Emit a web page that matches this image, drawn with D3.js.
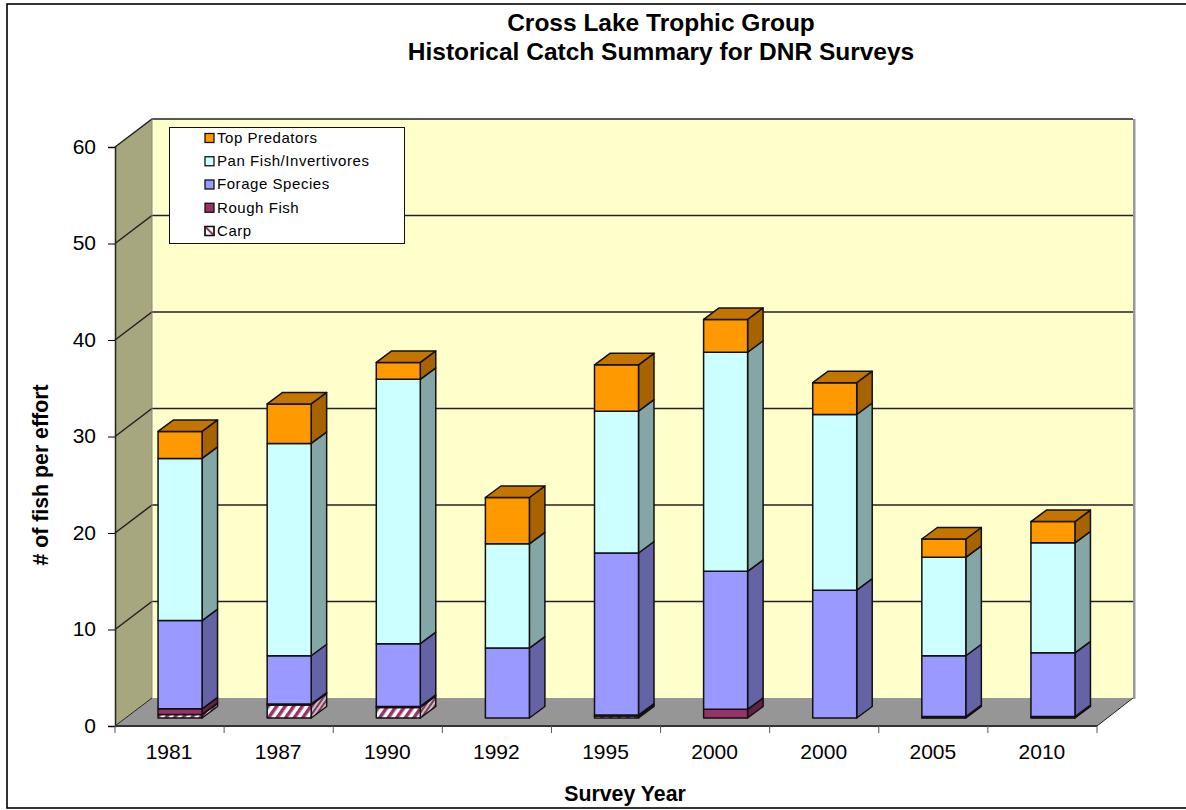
<!DOCTYPE html>
<html><head><meta charset="utf-8">
<script src="https://cdn.jsdelivr.net/npm/d3@7"></script>
<style>html,body{margin:0;padding:0;background:#fff}svg{display:block}text{font-family:"Liberation Sans",Arial,sans-serif;fill:#000}</style>
</head><body><svg id="c" width="1186" height="810"></svg>
<script>
const years=["1981","1987","1990","1992","1995","2000","2000","2005","2010"];
const carp=[0.35,1.35,1.1,0,0.2,0,0,0.05,0.05];
const rough=[0.6,0.1,0.1,0,0.1,0.9,0,0.1,0.1];
const forage=[9.15,5,6.5,7.25,16.8,14.3,13.25,6.3,6.6];
const pan=[16.8,22,27.4,10.8,14.7,22.7,18.2,10.2,11.4];
const top_=[2.8,4.1,1.75,4.8,4.8,3.4,3.3,1.9,2.2];
const seriesNames=["Carp","Rough Fish","Forage Species","Pan Fish/Invertivores","Top Predators"];
const seriesValues=[carp,rough,forage,pan,top_];
const fronts=[null,"#993366","#9999FF","#CCFFFF","#FF9900"];
const sides=["#a58aa0","#632142","#6363A6","#85A6A6","#A66300"];
const tops={4:"#C47500"};
const yTicks=[0,10,20,30,40,50,60];

const svg=d3.select("#c");
const defs=svg.append("defs");
function hatch(id,bg,fg,size,w){
  const p=defs.append("pattern").attr("id",id).attr("width",size).attr("height",size).attr("patternUnits","userSpaceOnUse").attr("patternTransform","rotate(35)");
  p.append("rect").attr("width",size).attr("height",size).attr("fill",bg);
  p.append("rect").attr("width",w).attr("height",size).attr("fill",fg);
}
hatch("hF","#fff","#993366",7,3.5);
hatch("hS","#c9c0c6","#7d3a5c",4,2);

// frame
svg.append("rect").attr("x",7).attr("y",4).attr("width",1190).attr("height",804).attr("fill","#fff").attr("stroke","#000").attr("stroke-width",1.6);

const X0=115,X1=1097,Y0=726,Y60=147, DX=37,DY=-28;
const x=d3.scaleBand().domain(d3.range(years.length)).range([X0,X1]);
const y=d3.scaleLinear().domain([0,60]).range([Y0,Y60]);
const g=svg.append("g");
const poly=(pts,fill,stroke,sw)=>g.append("polygon").attr("points",pts.map(p=>p.join(",")).join(" ")).attr("fill",fill).attr("stroke",stroke||"none").attr("stroke-width",sw||0).attr("stroke-linejoin","round");

// back wall shadow, wall
g.append("rect").attr("x",X1+DX-1).attr("y",y(60)+DY).attr("width",2.5).attr("height",y(0)-y(60)+1).attr("fill","#999");
poly([[X0+DX,y(60)+DY],[X1+DX-1,y(60)+DY],[X1+DX-1,y(0)+DY],[X0+DX,y(0)+DY]],"#FFFFCC");
poly([[X0,y(60)],[X0+DX,y(60)+DY],[X0+DX,y(0)+DY],[X0,y(0)]],"#A6A67F");
poly([[X0,y(0)],[X0+DX,y(0)+DY],[X1+DX-1,y(0)+DY],[X1,y(0)]],"#969696");

// gridlines
yTicks.slice(1).forEach(t=>{
  g.append("polyline").attr("points",`${X0},${y(t)} ${X0+DX},${y(t)+DY} ${X1+DX-1},${y(t)+DY}`).attr("fill","none").attr("stroke","#222").attr("stroke-width",1.5);
});
g.append("line").attr("x1",X0).attr("x2",X0+DX).attr("y1",y(0)).attr("y2",y(0)+DY).attr("stroke","#222").attr("stroke-width",1);
g.append("line").attr("x1",X1).attr("x2",X1+DX-1).attr("y1",y(0)).attr("y2",y(0)+DY).attr("stroke","#222").attr("stroke-width",1);
g.append("line").attr("x1",X0+DX).attr("x2",X0+DX).attr("y1",y(60)+DY).attr("y2",y(0)+DY).attr("stroke","#888").attr("stroke-width",1);

// axes
const yAxis=d3.axisLeft(y).tickValues(yTicks).tickSize(7).tickPadding(7);
const ya=svg.append("g").attr("transform",`translate(${X0},0)`).call(yAxis);
ya.select(".domain").attr("stroke","#222").attr("stroke-width",1.5);
ya.selectAll("text").attr("font-size",21).attr("dy","0.3em").attr("x",-19);
const xEdges=d3.range(years.length+1).map(i=>X0+i*x.bandwidth());
const xa=svg.append("g");
xa.append("line").attr("x1",X0).attr("x2",X1).attr("y1",Y0).attr("y2",Y0).attr("stroke","#333").attr("stroke-width",2);
xa.selectAll("line.t").data(xEdges).join("line").attr("class","t").attr("x1",d=>d).attr("x2",d=>d).attr("y1",Y0).attr("y2",Y0+7).attr("stroke","#555").attr("stroke-width",1);
xa.selectAll("text").data(years).join("text").attr("x",(d,i)=>x(i)+x.bandwidth()/2-0.5).attr("y",759).attr("text-anchor","middle").attr("font-size",21).text(d=>d);

// bars
const barW=44, offX=(x.bandwidth()-barW)/2+10.5, offY=-8, sdx=15.5, sdy=-11.5;
const barsG=svg.append("g");
years.forEach((yr,i)=>{
  let cum=0;
  const xl=x(i)+offX, xr=xl+barW;
  const py=v=>y(v)+offY;
  const layers=[];
  seriesValues.forEach((s,k)=>{ if(s[i]>0){layers.push({k,a:cum,b:cum+s[i]}); cum+=s[i];} });
  const bg=barsG.append("g").attr("stroke","#111").attr("stroke-width",1.5).attr("stroke-linejoin","round");
  layers.forEach((l,n)=>{
    const ya=py(l.a), yb=py(l.b);
    bg.append("polygon").attr("points",`${xr},${ya} ${xr+sdx},${ya+sdy} ${xr+sdx},${yb+sdy} ${xr},${yb}`).attr("fill",l.k==0?"url(#hS)":sides[l.k]);
    bg.append("rect").attr("x",xl).attr("y",yb).attr("width",barW).attr("height",ya-yb).attr("fill",l.k==0?"url(#hF)":fronts[l.k]);
    if(n==layers.length-1){
      bg.append("polygon").attr("points",`${xl},${yb} ${xl+sdx},${yb+sdy} ${xr+sdx},${yb+sdy} ${xr},${yb}`).attr("fill",tops[l.k]);
    }
  });
});

// legend
const lg=svg.append("g");
lg.append("rect").attr("x",169.5).attr("y",127.5).attr("width",235).attr("height",116).attr("fill","#fff").attr("stroke","#111").attr("stroke-width",1);
const legendOrder=[4,3,2,1,0];
const ly=d3.scalePoint().domain(legendOrder).range([138,231]);
legendOrder.forEach(k=>{
  lg.append("rect").attr("x",205).attr("y",ly(k)-4.5).attr("width",9).attr("height",9).attr("fill",k==0?"#fff":fronts[k]).attr("stroke","#111").attr("stroke-width",1.3);
  lg.append("text").attr("x",217).attr("y",ly(k)+4.8).attr("font-size",15).attr("letter-spacing",0.55).text(seriesNames[k]);
});
const cy=ly(0);
lg.append("line").attr("x1",205.5).attr("y1",cy-4).attr("x2",213.5).attr("y2",cy+4).attr("stroke","#993366").attr("stroke-width",2);
lg.append("rect").attr("x",205).attr("y",cy-4.5).attr("width",9).attr("height",9).attr("fill","none").attr("stroke","#111").attr("stroke-width",1.3);

// titles
svg.append("text").attr("x",661).attr("y",31).attr("text-anchor","middle").attr("font-size",24.5).attr("font-weight","bold").text("Cross Lake Trophic Group");
svg.append("text").attr("x",661).attr("y",60).attr("text-anchor","middle").attr("font-size",24.5).attr("font-weight","bold").text("Historical Catch Summary for DNR Surveys");
svg.append("text").attr("x",625).attr("y",801).attr("text-anchor","middle").attr("font-size",21.3).attr("font-weight","bold").text("Survey Year");
svg.append("text").attr("transform","translate(48,475) rotate(-90)").attr("text-anchor","middle").attr("font-size",21.3).attr("font-weight","bold").text("# of fish per effort");
</script></body></html>
